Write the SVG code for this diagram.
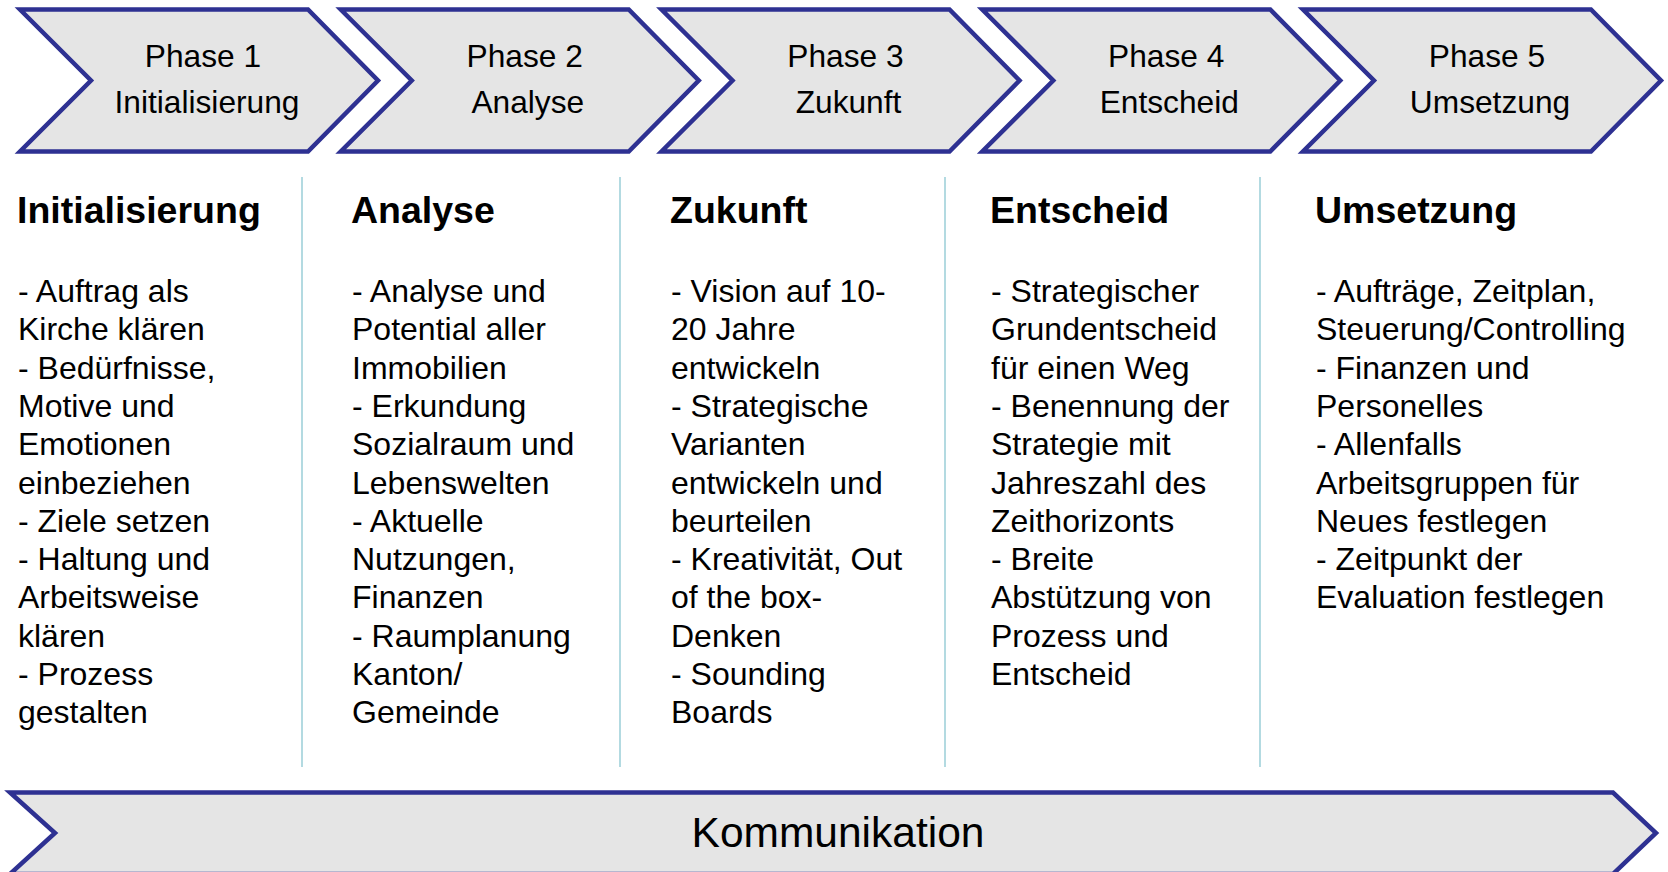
<svg xmlns="http://www.w3.org/2000/svg" width="1668" height="872" viewBox="0 0 1668 872">
  <style>
    .chev { fill: #e5e5e5; stroke: #2e3192; stroke-width: 4.5; stroke-linejoin: miter; }
    .phase { font-family: "Liberation Sans", Arial, sans-serif; font-size: 31.7px; fill: #000; text-anchor: middle; }
    .head { font-family: "Liberation Sans", Arial, sans-serif; font-size: 37.5px; font-weight: bold; fill: #000; }
    .body { font-family: "Liberation Sans", Arial, sans-serif; font-size: 32px; fill: #000; }
    .sep { stroke: #b3dae1; stroke-width: 2; }
    .bar-label { font-family: "Liberation Sans", Arial, sans-serif; font-size: 42.5px; fill: #000; text-anchor: middle; }
  </style>
  <defs>
    <polygon id="chevron" class="chev" points="0,9.5 288,9.5 358,80.5 288,151.5 0,151.5 71,80.5"/>
  </defs>

  <rect width="1668" height="872" fill="#ffffff"/>

  <!-- phase chevrons -->
  <g id="phase1" transform="translate(20,0)">
    <use href="#chevron"/>
    <text class="phase" x="183" y="67">Phase 1</text>
    <text class="phase" x="187" y="113">Initialisierung</text>
  </g>
  <g id="phase2" transform="translate(340.75,0)">
    <use href="#chevron"/>
    <text class="phase" x="184" y="67">Phase 2</text>
    <text class="phase" x="187" y="113">Analyse</text>
  </g>
  <g id="phase3" transform="translate(661.5,0)">
    <use href="#chevron"/>
    <text class="phase" x="184" y="67">Phase 3</text>
    <text class="phase" x="187" y="113">Zukunft</text>
  </g>
  <g id="phase4" transform="translate(982.25,0)">
    <use href="#chevron"/>
    <text class="phase" x="184" y="67">Phase 4</text>
    <text class="phase" x="187" y="113">Entscheid</text>
  </g>
  <g id="phase5" transform="translate(1303,0)">
    <use href="#chevron"/>
    <text class="phase" x="184" y="67">Phase 5</text>
    <text class="phase" x="187" y="113">Umsetzung</text>
  </g>

  <!-- column separators -->
  <g id="connectors">
    <line class="sep" x1="302" y1="177" x2="302" y2="767"/>
    <line class="sep" x1="620" y1="177" x2="620" y2="767"/>
    <line class="sep" x1="945" y1="177" x2="945" y2="767"/>
    <line class="sep" x1="1260" y1="177" x2="1260" y2="767"/>
  </g>

  <!-- phase descriptions -->
  <g id="col1">
    <text class="head" x="17" y="223">Initialisierung</text>
    <text class="body" x="18" y="302">
      <tspan x="18">- Auftrag als</tspan>
      <tspan x="18" dy="38.3">Kirche klären</tspan>
      <tspan x="18" dy="38.3">- Bedürfnisse,</tspan>
      <tspan x="18" dy="38.3">Motive und</tspan>
      <tspan x="18" dy="38.3">Emotionen</tspan>
      <tspan x="18" dy="38.3">einbeziehen</tspan>
      <tspan x="18" dy="38.3">- Ziele setzen</tspan>
      <tspan x="18" dy="38.3">- Haltung und</tspan>
      <tspan x="18" dy="38.3">Arbeitsweise</tspan>
      <tspan x="18" dy="38.3">klären</tspan>
      <tspan x="18" dy="38.3">- Prozess</tspan>
      <tspan x="18" dy="38.3">gestalten</tspan>
    </text>
  </g>
  <g id="col2">
    <text class="head" x="351" y="223">Analyse</text>
    <text class="body" x="352" y="302">
      <tspan x="352">- Analyse und</tspan>
      <tspan x="352" dy="38.3">Potential aller</tspan>
      <tspan x="352" dy="38.3">Immobilien</tspan>
      <tspan x="352" dy="38.3">- Erkundung</tspan>
      <tspan x="352" dy="38.3">Sozialraum und</tspan>
      <tspan x="352" dy="38.3">Lebenswelten</tspan>
      <tspan x="352" dy="38.3">- Aktuelle</tspan>
      <tspan x="352" dy="38.3">Nutzungen,</tspan>
      <tspan x="352" dy="38.3">Finanzen</tspan>
      <tspan x="352" dy="38.3">- Raumplanung</tspan>
      <tspan x="352" dy="38.3">Kanton/</tspan>
      <tspan x="352" dy="38.3">Gemeinde</tspan>
    </text>
  </g>
  <g id="col3">
    <text class="head" x="670" y="223">Zukunft</text>
    <text class="body" x="671" y="302">
      <tspan x="671">- Vision auf 10-</tspan>
      <tspan x="671" dy="38.3">20 Jahre</tspan>
      <tspan x="671" dy="38.3">entwickeln</tspan>
      <tspan x="671" dy="38.3">- Strategische</tspan>
      <tspan x="671" dy="38.3">Varianten</tspan>
      <tspan x="671" dy="38.3">entwickeln und</tspan>
      <tspan x="671" dy="38.3">beurteilen</tspan>
      <tspan x="671" dy="38.3">- Kreativität, Out</tspan>
      <tspan x="671" dy="38.3">of the box-</tspan>
      <tspan x="671" dy="38.3">Denken</tspan>
      <tspan x="671" dy="38.3">- Sounding</tspan>
      <tspan x="671" dy="38.3">Boards</tspan>
    </text>
  </g>
  <g id="col4">
    <text class="head" x="990" y="223">Entscheid</text>
    <text class="body" x="991" y="302">
      <tspan x="991">- Strategischer</tspan>
      <tspan x="991" dy="38.3">Grundentscheid</tspan>
      <tspan x="991" dy="38.3">für einen Weg</tspan>
      <tspan x="991" dy="38.3">- Benennung der</tspan>
      <tspan x="991" dy="38.3">Strategie mit</tspan>
      <tspan x="991" dy="38.3">Jahreszahl des</tspan>
      <tspan x="991" dy="38.3">Zeithorizonts</tspan>
      <tspan x="991" dy="38.3">- Breite</tspan>
      <tspan x="991" dy="38.3">Abstützung von</tspan>
      <tspan x="991" dy="38.3">Prozess und</tspan>
      <tspan x="991" dy="38.3">Entscheid</tspan>
    </text>
  </g>
  <g id="col5">
    <text class="head" x="1315" y="223">Umsetzung</text>
    <text class="body" x="1316" y="302">
      <tspan x="1316">- Aufträge, Zeitplan,</tspan>
      <tspan x="1316" dy="38.3">Steuerung/Controlling</tspan>
      <tspan x="1316" dy="38.3">- Finanzen und</tspan>
      <tspan x="1316" dy="38.3">Personelles</tspan>
      <tspan x="1316" dy="38.3">- Allenfalls</tspan>
      <tspan x="1316" dy="38.3">Arbeitsgruppen für</tspan>
      <tspan x="1316" dy="38.3">Neues festlegen</tspan>
      <tspan x="1316" dy="38.3">- Zeitpunkt der</tspan>
      <tspan x="1316" dy="38.3">Evaluation festlegen</tspan>
    </text>
  </g>

  <!-- communication bar spanning all phases -->
  <g id="kommunikation">
    <polygon class="chev" points="10,792.5 1613,792.5 1656,833 1613,874 10,874 55,833"/>
    <text class="bar-label" x="838" y="847">Kommunikation</text>
  </g>
</svg>
